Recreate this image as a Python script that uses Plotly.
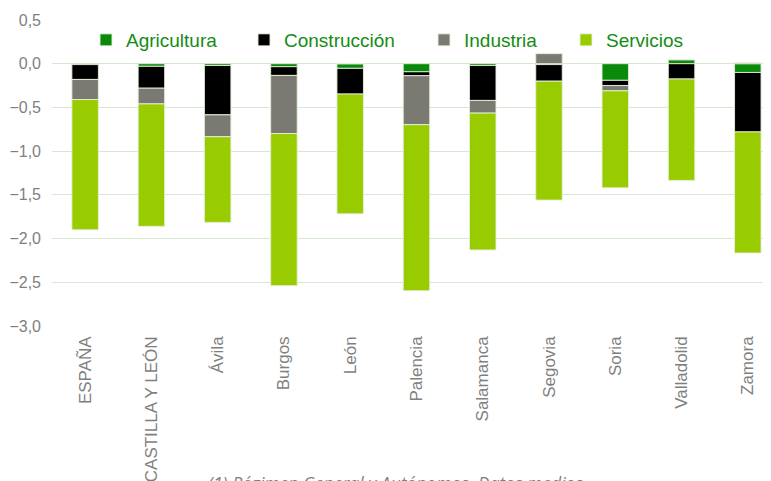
import plotly.graph_objects as go

categories = ["ESPAÑA", "CASTILLA Y LEÓN", "Ávila", "Burgos", "León", "Palencia",
              "Salamanca", "Segovia", "Soria", "Valladolid", "Zamora"]
agricultura = [-0.01, -0.03, -0.02, -0.034, -0.053, -0.092, -0.02, -0.01, -0.19, 0.046, -0.10]
construccion = [-0.17, -0.25, -0.565, -0.10, -0.294, -0.045, -0.40, -0.19, -0.06, -0.175, -0.68]
industria = [-0.23, -0.18, -0.25, -0.665, 0.0, -0.56, -0.145, 0.115, -0.06, 0.0, 0.01]
servicios = [-1.49, -1.40, -0.98, -1.74, -1.37, -1.90, -1.565, -1.36, -1.11, -1.16, -1.385]
y_ticks = [0.5, 0.0, -0.5, -1.0, -1.5, -2.0, -2.5, -3.0]
note = "(1) Régimen General y Autónomos. Datos medios"

series = [
    ("Agricultura", agricultura, "#0a8a0a", "legend"),
    ("Construcción", construccion, "#000000", "legend2"),
    ("Industria", industria, "#7a7a72", "legend3"),
    ("Servicios", servicios, "#99cc00", "legend4"),
]

fig = go.Figure()
for name, vals, col, lg in series:
    fig.add_trace(go.Bar(
        x=categories, y=vals, name=name, marker_color=col,
        marker_line=dict(color="rgba(230,240,220,0.9)", width=1),
        width=0.4, legend=lg,
    ))

# page has an 8px body margin: figure is sized/positioned to compensate
PLOT_H = 306
legend_font = dict(family="Liberation Sans, Arial, sans-serif", size=19, color="#148c14")
def lg(xpx):
    return dict(x=(xpx - 52) / 719, y=(326 - 40) / PLOT_H, xanchor="left", yanchor="middle",
                orientation="h", font=legend_font, bgcolor="rgba(0,0,0,0)",
                itemwidth=30, tracegroupgap=0)

fig.update_layout(
    width=763, height=473,
    margin=dict(l=44, r=0, t=12, b=155, autoexpand=False),
    plot_bgcolor="white", paper_bgcolor="white",
    barmode="relative",
    separators=",.",
    showlegend=True,
    legend=lg(86), legend2=lg(244), legend3=lg(424), legend4=lg(566),
    xaxis=dict(range=[-0.5, 10.35], tickangle=-90, showgrid=False, showline=False,
               automargin=False, ticks="", ticklabelstandoff=6,
               tickfont=dict(family="Liberation Sans, Arial, sans-serif",
                             size=17, color="#7f7f7f")),
    yaxis=dict(range=[-3.0, 0.5], tickvals=y_ticks, tickformat=".1f",
               automargin=False, ticklabelstandoff=10,
               gridcolor="#d5e8d0", gridwidth=1, zeroline=False, showline=False,
               ticks="", tickfont=dict(family="Liberation Sans, Arial, sans-serif",
                                       size=16, color="#7f7f7f")),
    annotations=[dict(text=note, xref="paper", yref="paper", x=(206 - 52) / 719,
                      y=(326 - 469) / PLOT_H, xanchor="left", yanchor="top",
                      showarrow=False,
                      font=dict(family="Open Sans, sans-serif", size=17.5, color="#7f7f7f",
                                style="italic"))],
)

fig.write_html("out.html")
